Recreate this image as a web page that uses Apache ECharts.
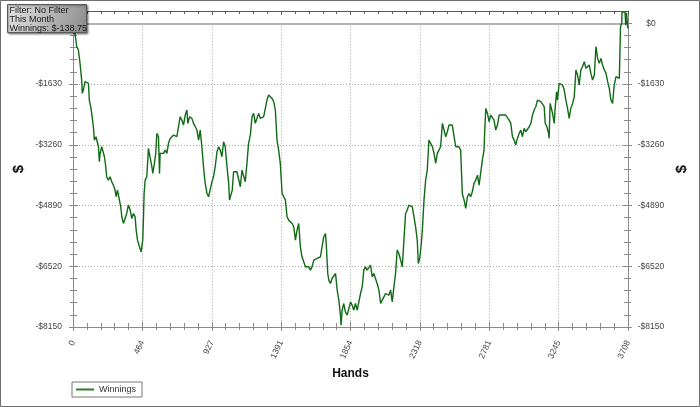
<!DOCTYPE html>
<html>
<head>
<meta charset="utf-8">
<script src="https://cdn.jsdelivr.net/npm/echarts@6/dist/echarts.min.js"></script>
<style>html,body{margin:0;padding:0;background:#fff}#c{width:700px;height:407px}</style>
</head>
<body>
<div id="c"></div>
<script>
const hands = [
0,13,25,36,47,58,62,69,80,91,
103,109,118,125,136,143,154,163,170,176,
181,192,203,210,219,225,236,248,259,270,
281,288,297,310,319,326,337,348,359,370,
382,393,404,415,422,431,444,455,466,471,
475,482,493,504,515,527,533,544,553,560,
571,578,582,593,605,616,627,638,649,660,
672,683,694,705,716,727,738,750,761,767,
779,794,805,817,828,839,850,861,872,883,
895,906,917,928,939,950,962,973,984,995,
1006,1017,1029,1040,1046,1055,1064,1073,1084,1095,
1107,1118,1129,1140,1151,1162,1173,1185,1196,1207,
1218,1229,1240,1252,1263,1274,1285,1296,1307,1319,
1330,1341,1352,1363,1374,1385,1397,1408,1419,1430,
1441,1452,1464,1475,1486,1497,1508,1519,1530,1542,
1553,1564,1575,1586,1597,1609,1631,1653,1664,1675,
1687,1693,1702,1709,1720,1731,1742,1754,1765,1776,
1787,1791,1798,1809,1820,1832,1843,1854,1865,1876,
1887,1899,1910,1921,1932,1943,1954,1965,1977,1988,
1999,2010,2021,2032,2044,2055,2066,2077,2088,2099,
2110,2122,2133,2144,2155,2166,2177,2189,2200,2211,
2222,2233,2244,2256,2267,2278,2289,2300,2307,2318,
2327,2334,2345,2356,2367,2378,2389,2401,2412,2423,
2434,2445,2456,2468,2479,2490,2501,2512,2523,2534,
2546,2557,2568,2579,2590,2601,2613,2624,2635,2646,
2657,2668,2679,2691,2702,2713,2724,2735,2746,2751,
2758,2769,2780,2791,2802,2813,2824,2836,2847,2858,
2869,2880,2891,2903,2914,2925,2936,2947,2958,2969,
2981,2992,3003,3014,3025,3036,3048,3059,3070,3081,
3092,3103,3114,3126,3137,3148,3155,3166,3177,3181,
3188,3197,3204,3215,3222,3231,3237,3248,3259,3271,
3282,3293,3304,3315,3326,3338,3349,3360,3371,3382,
3393,3404,3416,3427,3438,3449,3460,3471,3483,3494,
3505,3516,3527,3538,3550,3561,3572,3583,3594,3605,
3616,3628,3639,3650,3656,3658,3666,3668,3680,3688,
3693,3698,3702,3705,3708
];
const winnings = [
0,-269,-627,-717,-1075,-1523,-1880,-1791,-1567,-1523,
-1612,-2060,-2239,-2418,-2776,-3134,-3044,-3089,-3313,-3716,
-3492,-3313,-3358,-3581,-3850,-4118,-4208,-4118,-4253,-4342,
-4476,-4655,-4476,-4521,-4924,-5192,-5371,-5416,-5103,-4879,
-5013,-5237,-5103,-5192,-5550,-5819,-5998,-6132,-5819,-5192,
-4566,-4208,-4118,-3358,-3402,-3850,-4029,-3760,-3492,-2955,
-3044,-4029,-3492,-3447,-3492,-3402,-3492,-3223,-3089,-3044,
-3000,-2955,-3044,-2776,-2507,-2597,-2731,-2462,-2328,-2686,
-2507,-2552,-2686,-2776,-2865,-3134,-2865,-3313,-3850,-4297,
-4566,-4655,-4700,-4253,-4118,-3850,-3447,-3313,-3402,-3581,
-3179,-3313,-3850,-4297,-4745,-4790,-4476,-3984,-4029,-3984,
-4029,-4387,-3939,-3895,-4253,-3760,-3223,-3000,-2507,-2418,
-2686,-2552,-2418,-2552,-2597,-2507,-2462,-2060,-1925,-1970,
-2015,-2104,-2328,-3134,-3402,-3760,-4566,-4655,-4745,-5192,
-5282,-5327,-5371,-5461,-5819,-5550,-5371,-5998,-6267,-6311,
-6535,-6580,-6535,-6625,-6535,-6356,-6311,-6267,-6222,-5730,
-5640,-5998,-6714,-6893,-6983,-6848,-6804,-6714,-7162,-7430,
-7833,-8102,-7699,-7520,-7744,-7833,-7878,-7475,-7565,-7699,
-7520,-7699,-7744,-7251,-7072,-6625,-6535,-6625,-6580,-6490,
-6804,-6714,-6759,-6983,-7162,-7520,-7430,-7341,-7251,-7207,
-7296,-7162,-7475,-7072,-6714,-6088,-6177,-6356,-6535,-5819,
-5103,-5013,-4879,-4924,-4924,-4969,-5461,-5819,-6446,-6267,
-5908,-5550,-4745,-4208,-3939,-3134,-3134,-3313,-3492,-3760,
-3492,-3402,-3313,-2686,-2641,-3044,-2910,-2731,-2686,-2731,
-2731,-3313,-3358,-3313,-3402,-4566,-4745,-4969,-4655,-4566,
-4655,-4521,-4297,-4208,-4074,-4342,-4342,-3671,-3402,-2865,
-2283,-2418,-2641,-2462,-2462,-2597,-2865,-2731,-2462,-2507,
-2462,-2507,-2462,-2507,-2597,-2686,-3044,-3134,-3268,-3089,
-2955,-2865,-3044,-2820,-2910,-2865,-2776,-2686,-2462,-2328,
-2239,-2060,-2015,-2104,-2060,-2239,-2686,-2776,-2955,-3089,
-2149,-2104,-2418,-2686,-2239,-1836,-2060,-1612,-1567,-1657,
-1791,-2060,-2283,-2552,-2283,-2149,-1970,-1254,-1388,-1657,
-1254,-1165,-1030,-1209,-1165,-1120,-1344,-1523,-1388,-627,
-941,-1075,-941,-1120,-1254,-1344,-1567,-1746,-2060,-2149,
-1657,-1433,-1478,-1478,-1433,-90,0,300,320,300,
-50,280,310,-50,-139
];
const xTickLabels = ['0','464','927','1391','1854','2318','2781','3245','3708'];
const yTickLabels = ['-$8150','-$6520','-$4890','-$3260','-$1630','$0'];
const seriesName = 'Winnings';
const infoLines = ['Filter: No Filter', 'This Month', 'Winnings: $-138.75'];

const X_MIN = 0, X_MAX = 3708, X_STEP = 463.5;
const Y_MIN = -8150, Y_MAX = 330, Y_STEP = 1630;

const data = hands.map((h, i) => [h, winnings[i]]);
const axisGray = '#8a8a8a';
const FONT = 'Liberation Sans, Arial, sans-serif';
const labelFont = { fontSize: 8.5, color: '#444', fontFamily: FONT };
const dotted = { show: true, lineStyle: { type: [1, 2], color: '#a5a5a5', width: 1 } };

function xLabel(v) {
  const i = Math.round(v / X_STEP);
  return Math.abs(i * X_STEP - v) < 1e-6 && xTickLabels[i] !== undefined ? xTickLabels[i] : '';
}
function yLabel(v) {
  const i = Math.round((v - Y_MIN) / Y_STEP);
  return Math.abs(Y_MIN + i * Y_STEP - v) < 1e-6 && yTickLabels[i] !== undefined ? yTickLabels[i] : '';
}

const gridRect = { left: 73, right: 72, bottom: 80 };
const chart = echarts.init(document.getElementById('c'), null, { renderer: 'canvas' });
chart.setOption({
  animation: false,
  backgroundColor: '#fff',
  grid: [
    Object.assign({ top: 11 }, gridRect),
    Object.assign({ top: 23.3 }, gridRect),
    Object.assign({ top: 23.3 }, gridRect)
  ],
  legend: {
    data: [seriesName],
    left: 72, top: 382,
    orient: 'horizontal',
    icon: 'rect', itemWidth: 18, itemHeight: 2,
    itemGap: 4,
    padding: [3, 6, 3, 4],
    borderColor: '#777', borderWidth: 1,
    textStyle: { fontSize: 9, color: '#333', fontFamily: FONT }
  },
  xAxis: [
    { gridIndex: 0, type: 'value', position: 'bottom', min: X_MIN, max: X_MAX, interval: X_STEP,
      axisLine: { show: true, onZero: false, lineStyle: { color: axisGray, width: 1 } },
      axisTick: { show: true, inside: false, length: 4, lineStyle: { color: axisGray } },
      minorTick: { show: true, splitNumber: 5, length: 3, lineStyle: { color: axisGray } },
      axisLabel: Object.assign({ rotate: 65, margin: 14, formatter: xLabel }, labelFont),
      splitLine: { show: false },
      name: 'Hands', nameLocation: 'middle', nameGap: 38,
      nameTextStyle: { fontWeight: 'bold', fontSize: 12, color: '#111', fontFamily: FONT }
    },
    { gridIndex: 0, type: 'value', position: 'top', min: X_MIN, max: X_MAX, interval: X_STEP,
      axisLine: { show: true, onZero: false, lineStyle: { color: '#5a5a5a', width: 1 } },
      axisTick: { show: true, inside: true, length: 4, lineStyle: { color: '#5a5a5a' } },
      minorTick: { show: true, splitNumber: 5, length: 3, lineStyle: { color: '#5a5a5a' } },
      axisLabel: { show: false }, splitLine: { show: false }
    },
    { gridIndex: 1, type: 'value', position: 'bottom', min: X_MIN, max: X_MAX, interval: X_STEP,
      axisLine: { show: false, onZero: false },
      axisTick: { show: true, inside: true, length: 5, lineStyle: { color: axisGray } },
      minorTick: { show: true, splitNumber: 5, length: 4, lineStyle: { color: axisGray } },
      axisLabel: { show: false }, splitLine: dotted
    },
    { gridIndex: 1, type: 'value', position: 'top', min: X_MIN, max: X_MAX,
      axisLine: { show: true, onZero: false, lineStyle: { color: '#b2b2b2', width: 2 } },
      axisTick: { show: false }, axisLabel: { show: false }, splitLine: { show: false }
    },
    { gridIndex: 2, type: 'value', min: X_MIN, max: X_MAX, show: false, axisLine: { onZero: false } }
  ],
  yAxis: [
    { gridIndex: 0, type: 'value', position: 'left', min: Y_MIN, max: Y_MAX,
      axisLine: { show: true, onZero: false, lineStyle: { color: axisGray } },
      axisTick: { show: false }, axisLabel: { show: false }, splitLine: { show: false },
      name: '$', nameLocation: 'middle', nameGap: 47, nameRotate: 90,
      nameTextStyle: { fontWeight: 'bold', fontSize: 15, color: '#111', fontFamily: FONT }
    },
    { gridIndex: 0, type: 'value', position: 'right', min: Y_MIN, max: Y_MAX,
      axisLine: { show: true, onZero: false, lineStyle: { color: axisGray } },
      axisTick: { show: false }, axisLabel: { show: false }, splitLine: { show: false },
      name: '$', nameLocation: 'middle', nameGap: 46, nameRotate: 90,
      nameTextStyle: { fontWeight: 'bold', fontSize: 15, color: '#111', fontFamily: FONT }
    },
    { gridIndex: 1, type: 'value', position: 'left', min: Y_MIN, max: 0, interval: Y_STEP,
      axisLine: { show: false, onZero: false },
      axisTick: { show: true, inside: false, length: 4, lineStyle: { color: axisGray } },
      minorTick: { show: true, splitNumber: 5, length: 3, lineStyle: { color: axisGray } },
      axisLabel: Object.assign({ margin: 11, formatter: yLabel }, labelFont),
      splitLine: dotted
    },
    { gridIndex: 1, type: 'value', position: 'right', min: Y_MIN, max: 0, interval: Y_STEP,
      axisLine: { show: false, onZero: false },
      axisTick: { show: true, inside: false, length: 4, lineStyle: { color: axisGray } },
      minorTick: { show: true, splitNumber: 5, length: 3, lineStyle: { color: axisGray } },
      axisLabel: Object.assign({ margin: 23, align: 'center', formatter: yLabel }, labelFont),
      splitLine: { show: false }
    },
    { gridIndex: 2, type: 'value', position: 'left', min: Y_MIN, max: 0, interval: Y_STEP,
      axisLine: { show: false, onZero: false },
      axisTick: { show: true, inside: true, length: 5, lineStyle: { color: axisGray } },
      minorTick: { show: true, splitNumber: 5, length: 4, lineStyle: { color: axisGray } },
      axisLabel: { show: false }, splitLine: { show: false }
    },
    { gridIndex: 2, type: 'value', position: 'right', min: Y_MIN, max: 0, interval: Y_STEP,
      axisLine: { show: false, onZero: false },
      axisTick: { show: true, inside: true, length: 5, lineStyle: { color: axisGray } },
      minorTick: { show: true, splitNumber: 5, length: 4, lineStyle: { color: axisGray } },
      axisLabel: { show: false }, splitLine: { show: false }
    }
  ],
  series: [{
    name: seriesName, type: 'line', xAxisIndex: 0, yAxisIndex: 0,
    data: data, showSymbol: false, symbol: 'none', z: 5,
    lineStyle: { color: '#106b14', width: 1.4 },
    itemStyle: { color: '#2f7d32' }
  }],
  graphic: [
    { type: 'rect', z: 200, silent: true,
      shape: { x: 0.5, y: 0.5, width: 699, height: 406 },
      style: { fill: 'none', stroke: '#6e6e6e', lineWidth: 1 } },
    { type: 'group', left: 7, top: 4, z: 300, children: [
      { type: 'rect', z: 300,
        shape: { x: 0, y: 0, width: 79, height: 28 },
        style: {
          fill: new echarts.graphic.LinearGradient(0, 0, 1, 1, [
            { offset: 0, color: '#e6e6e6' }, { offset: 1, color: '#8a8a8a' }
          ]),
          stroke: '#5a5a5a', lineWidth: 1,
          shadowBlur: 2, shadowOffsetX: 1, shadowOffsetY: 1, shadowColor: 'rgba(0,0,0,0.45)'
        } },
      { type: 'text', z: 301, x: 2, y: 1,
        style: { text: infoLines.join('\n'), fill: '#151515',
          font: '9px "Liberation Sans", Arial, sans-serif', lineHeight: 9.4 } }
    ] }
  ]
});
</script>
</body>
</html>
